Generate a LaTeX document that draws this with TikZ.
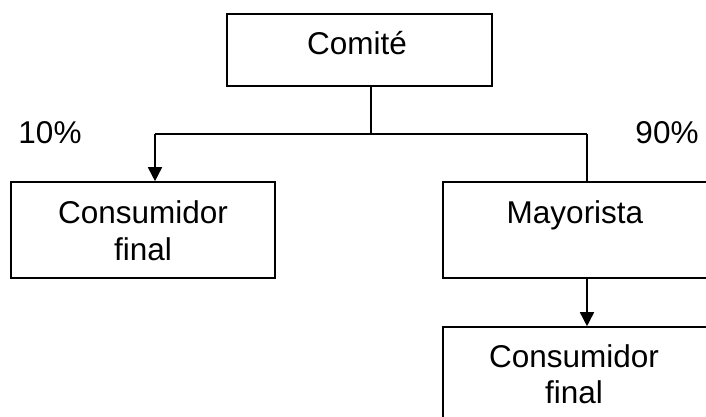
\documentclass[tikz,border=0pt]{standalone}
\usepackage{fontspec}
\setmainfont{Liberation Sans}
\usetikzlibrary{arrows.meta}
\begin{document}
\begin{tikzpicture}[x=1pt,y=-1pt,
  box/.style={draw,line width=1.6pt,rectangle,inner sep=0pt},
  lbl/.style={font=\fontsize{31.5}{37}\selectfont,anchor=base,inner sep=0pt},
  conn/.style={line width=1.6pt},
  arr/.style={conn,-{Triangle[width=14pt,length=14pt]}}]
\useasboundingbox (0,0) rectangle (706,417);
\clip (0,0) rectangle (706,417);
% boxes
\node[box,minimum width=265pt,minimum height=72pt] (com) at (359.5,50) {};
\node[box,minimum width=264pt,minimum height=96pt] (cf1) at (143,230) {};
\node[box,minimum width=280pt,minimum height=96pt] (may) at (583,230) {};
\node[box,minimum width=280pt,minimum height=110pt] (cf2) at (583,382) {};
% texts
\node[lbl] (tcom) at (357,55) {Comité};
\node[lbl] (tcf1a) at (143,223) {Consumidor};
\node[lbl] (tcf1b) at (143,260) {final};
\node[lbl] (tmay) at (575,223) {Mayorista};
\node[lbl] (tcf2a) at (574,367) {Consumidor};
\node[lbl] (tcf2b) at (574,403) {final};
\node[lbl] (p10) at (50,143) {10\%};
\node[lbl] (p90) at (667,143) {90\%};
% connectors
\coordinate (j) at (371,134);
\coordinate (jl) at (155,134);
\coordinate (jr) at (587,134);
\draw[conn] (com.south -| j) -- (j);
\draw[conn] (jl) -- (jr);
\draw[arr] (jl) -- (jl |- cf1.north);
\draw[conn] (jr) -- (jr |- may.north);
\draw[arr] (jr |- may.south) -- (jr |- cf2.north);
\end{tikzpicture}
\end{document}
